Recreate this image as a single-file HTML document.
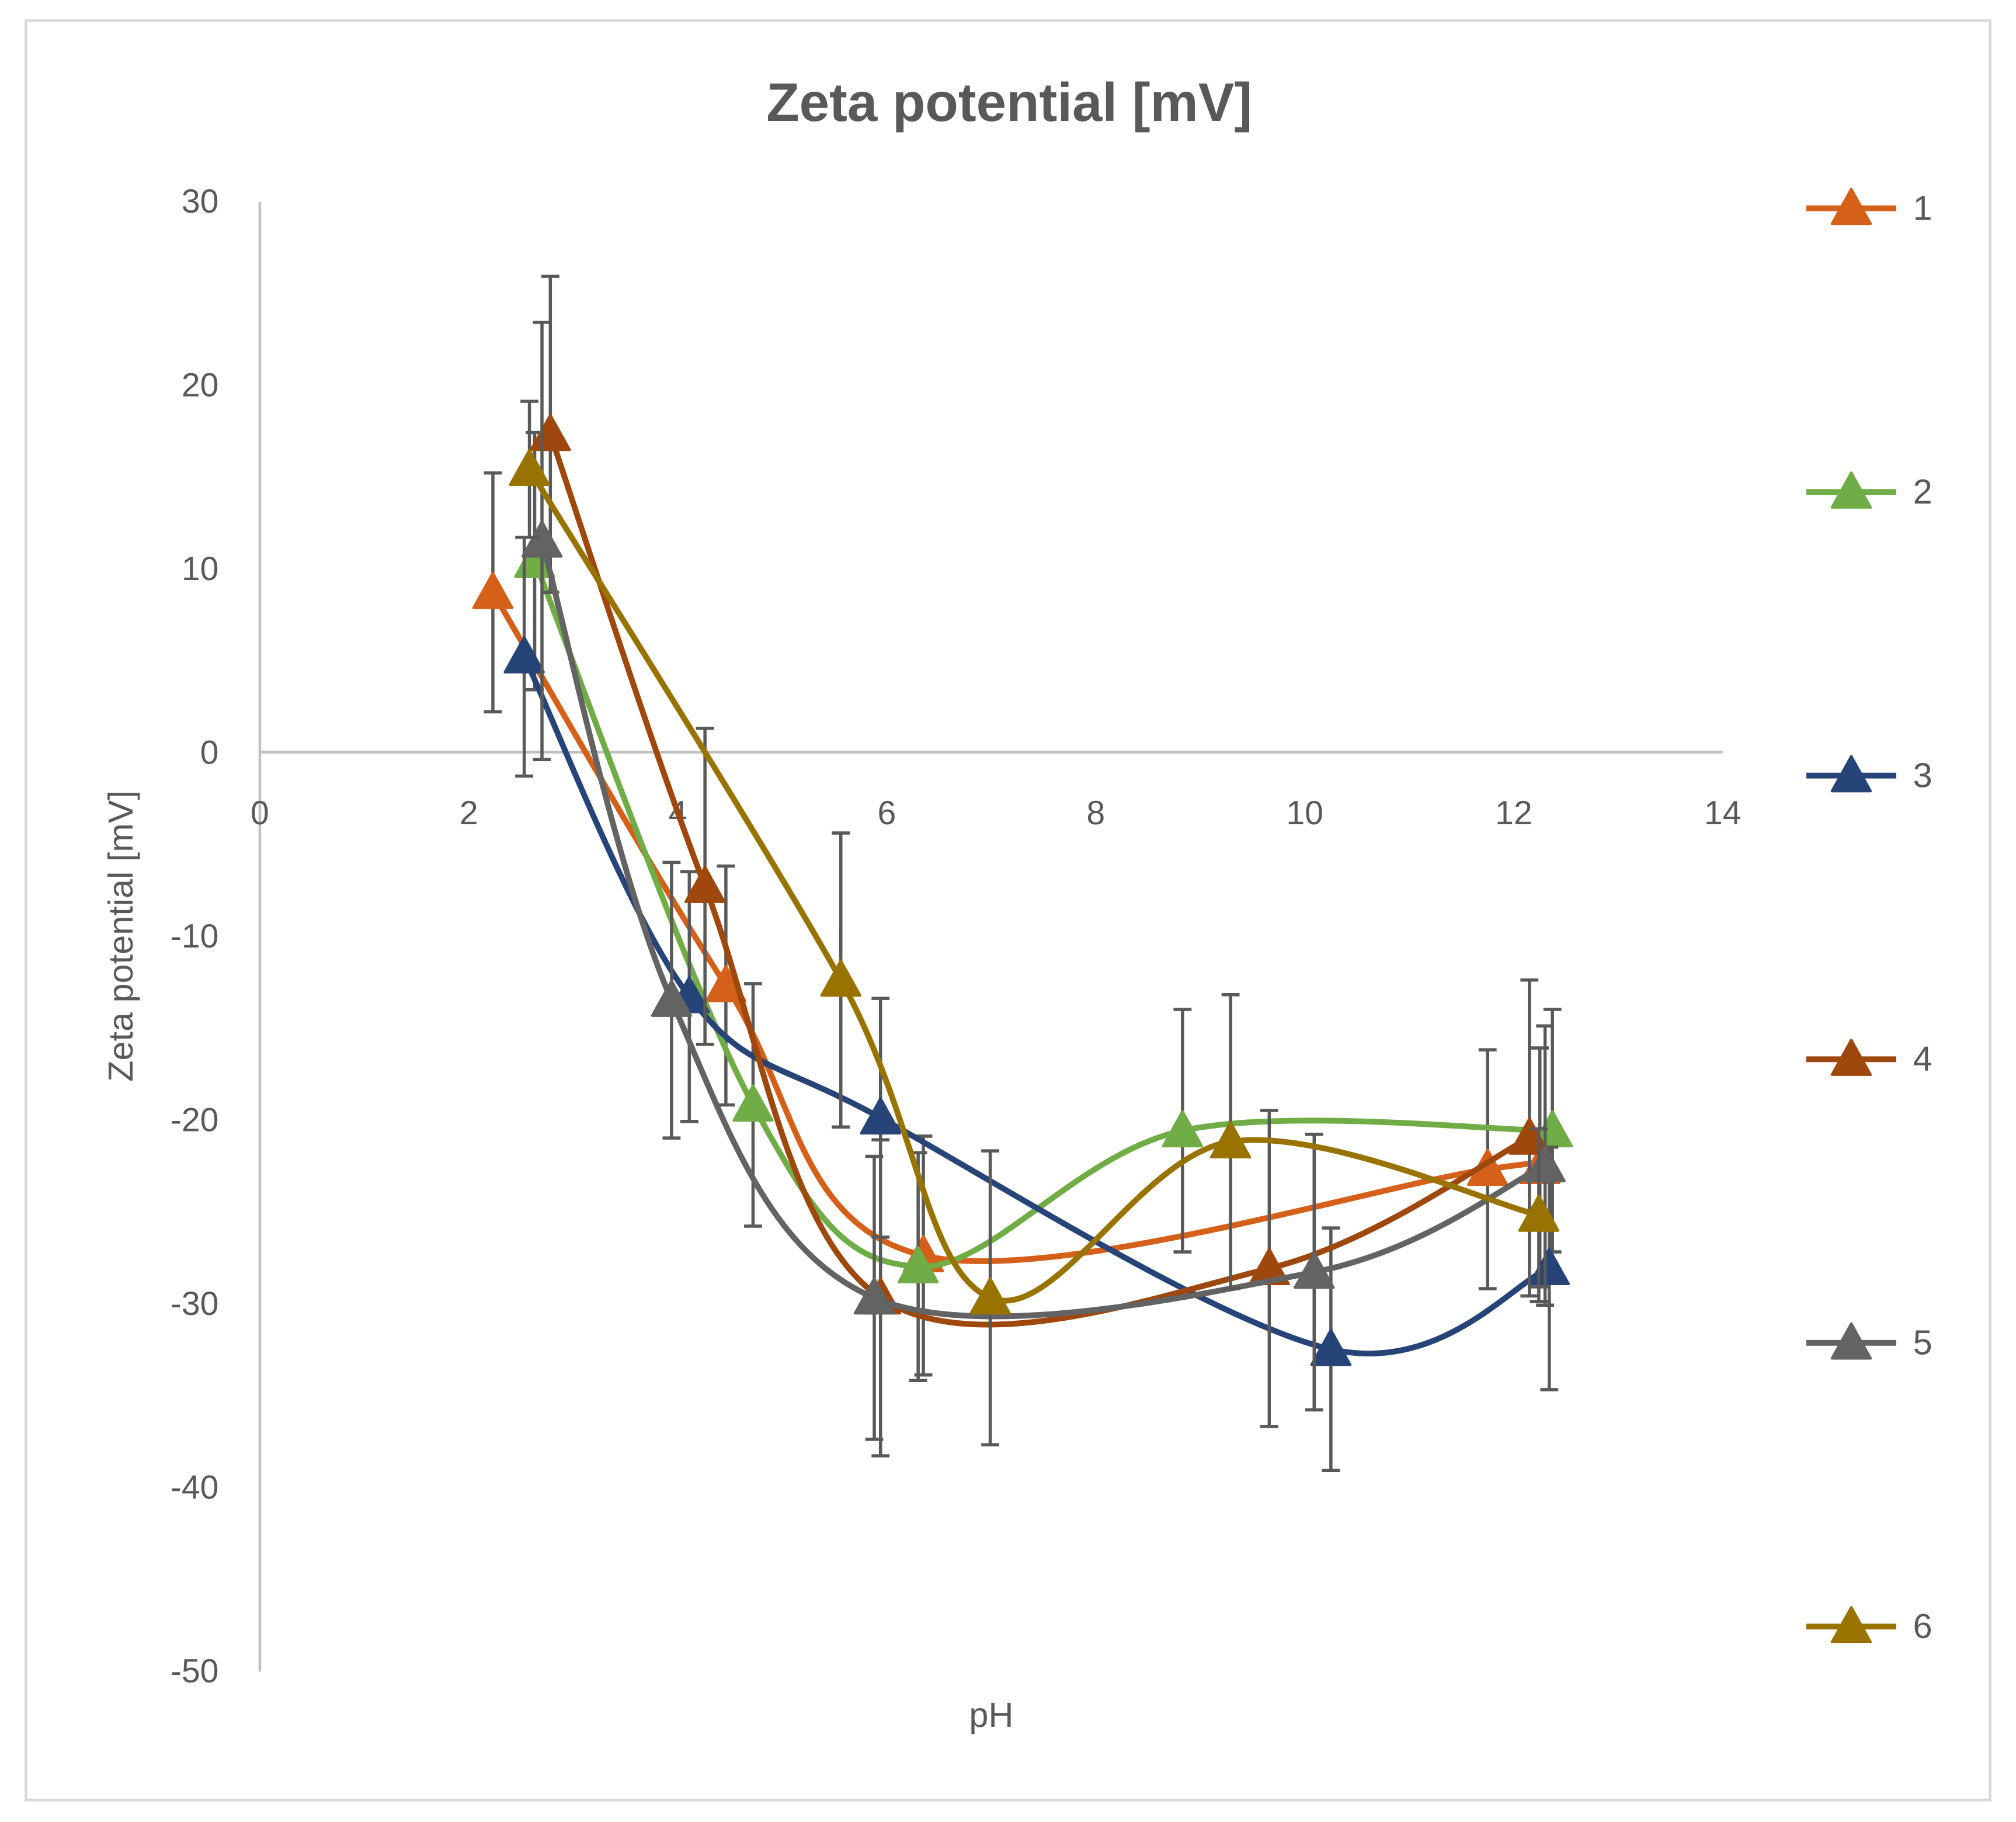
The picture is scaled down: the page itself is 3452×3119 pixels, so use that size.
<!DOCTYPE html>
<html><head><meta charset="utf-8"><style>
html,body{margin:0;padding:0;background:#fff}
svg{display:block}
text{font-family:"Liberation Sans",sans-serif;fill:#595959}
</style></head><body>
<svg id="chart" width="3452" height="3119" viewBox="0 0 1568 1417" xmlns="http://www.w3.org/2000/svg">
<rect x="20" y="16" width="1528" height="1384" fill="#fff" stroke="#d9d9d9" stroke-width="2"/>
<text x="785" y="94" text-anchor="middle" font-size="42" font-weight="bold">Zeta potential [mV]</text>
<g id="axes"></g>
<g id="series"></g>
<g id="legend"></g>
<text x="771" y="1343" text-anchor="middle" font-size="27">pH</text>
<text transform="translate(103,728) rotate(-90)" text-anchor="middle" font-size="27">Zeta potential [mV]</text>
</svg>
<script>
const seriesNames = ['1','2','3','4','5','6'];
const seriesColors = ['#D4601A','#70AD47','#264478','#9E480E','#636363','#997300'];
const xTicks = [0,2,4,6,8,10,12,14];
const yTicks = [30,20,10,0,-10,-20,-30,-40,-50];
const s1x=[2.23,4.46,6.35,11.75,12.25], s1y=[8.7,-12.7,-27.4,-22.7,-22.6], s1e=[6.5,6.5,6.5,6.5,6.5];
const s2x=[2.63,4.72,6.3,8.83,12.37], s2y=[10.4,-19.2,-28.0,-20.6,-20.6], s2e=[7.0,6.6,6.2,6.6,6.6];
const s3x=[2.53,4.11,5.94,10.25,12.34], s3y=[5.2,-13.3,-19.9,-32.5,-28.1], s3e=[6.5,6.8,6.5,6.6,6.6];
const s4x=[2.78,4.26,5.94,9.66,12.15], s4y=[17.3,-7.3,-29.7,-28.1,-21.0], s4e=[8.6,8.6,8.6,8.6,8.6];
const s5x=[2.7,3.94,5.88,10.09,12.3], s5y=[11.5,-13.5,-29.7,-28.3,-22.5], s5e=[11.9,7.5,7.7,7.5,7.6];
const s6x=[2.58,5.56,6.99,9.29,12.24], s6y=[15.4,-12.4,-29.7,-21.2,-25.2], s6e=[3.7,8.0,8.0,8.0,4.7];
const allX=[s1x,s2x,s3x,s4x,s5x,s6x], allY=[s1y,s2y,s3y,s4y,s5y,s6y], allE=[s1e,s2e,s3e,s4e,s5e,s6e];
const NS='http://www.w3.org/2000/svg';
const X=v=>202+v*(1138/14);
const Y=v=>585-v*(1143/80);
function mk(t,a,p){const e=document.createElementNS(NS,t);for(const k in a)e.setAttribute(k,a[k]);p.appendChild(e);return e;}
const axes=document.getElementById('axes');
let l=mk('line',{x1:202,y1:157,x2:202,y2:1300,stroke:'#bfbfbf','stroke-width':2},axes);


l=mk('line',{x1:202,y1:Y(0),x2:1340,y2:Y(0),stroke:'#bfbfbf','stroke-width':2},axes);


xTicks.forEach(v=>{const t=mk('text',{x:X(v),y:Y(0)+56,'text-anchor':'middle','font-size':26},axes);t.textContent=v;

});
yTicks.forEach(v=>{const t=mk('text',{x:170,y:Y(v)+9,'text-anchor':'end','font-size':26},axes);t.textContent=v;

});
function smooth(p){let d=`M${p[0][0]},${p[0][1]}`;for(let i=0;i<p.length-1;i++){const p0=p[i-1]||p[i],p1=p[i],p2=p[i+1],p3=p[i+2]||p2;const t=1/6;
d+=` C${p1[0]+(p2[0]-p0[0])*t},${p1[1]+(p2[1]-p0[1])*t} ${p2[0]-(p3[0]-p1[0])*t},${p2[1]-(p3[1]-p1[1])*t} ${p2[0]},${p2[1]}`;}return d;}
function tri(x,y,c,p){const e=mk('path',{d:`M${x},${y-15} L${x+15},${y+12} L${x-15},${y+12} Z`,fill:c,stroke:c,'stroke-width':2,'stroke-linejoin':'round'},p);return e;}
const sg=document.getElementById('series');
allX.forEach((xs,si)=>{const g=mk('g',{},sg);


const c=seriesColors[si];
const pts=xs.map((x,i)=>[X(x),Y(allY[si][i])]);
const path=mk('path',{d:smooth(pts),fill:'none',stroke:c,'stroke-width':4.5},g);


xs.forEach((x,i)=>{const cx=X(x),y1=Y(allY[si][i]+allE[si][i]),y2=Y(allY[si][i]-allE[si][i]);
const eb=mk('path',{d:`M${cx},${y1}V${y2}M${cx-7},${y1}H${cx+7}M${cx-7},${y2}H${cx+7}`,stroke:'#595959','stroke-width':2.5,fill:'none'},g);

});
xs.forEach((x,i)=>{const m=tri(X(x),Y(allY[si][i]),c,g);

});
});
const lg=document.getElementById('legend');
seriesNames.forEach((n,i)=>{const y=162+i*220.6;const g=mk('g',{},lg);


mk('line',{x1:1405,y1:y,x2:1475,y2:y,stroke:seriesColors[i],'stroke-width':4.5},g);
tri(1440,y,seriesColors[i],g);
const t=mk('text',{x:1488,y:y+9,'font-size':27},g);t.textContent=n;});
</script>
</body></html>
